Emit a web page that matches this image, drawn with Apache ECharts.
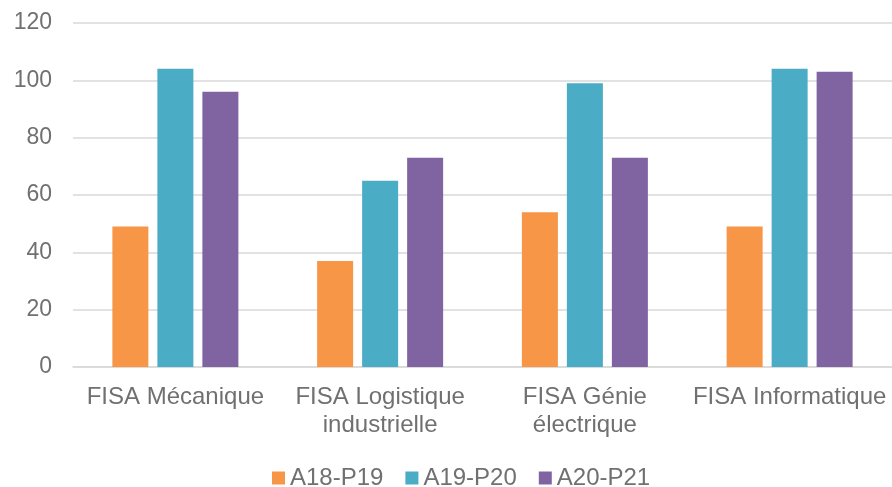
<!DOCTYPE html>
<html><head><meta charset="utf-8">
<script src="https://cdn.jsdelivr.net/npm/echarts@6/dist/echarts.min.js"></script>
<style>html,body{margin:0;padding:0;background:#fff}#c{width:892px;height:487px}</style>
</head><body><div id="c"></div>
<script>
const categories = ['FISA Mécanique', 'FISA Logistique\nindustrielle', 'FISA Génie\nélectrique', 'FISA Informatique'];
const seriesNames = ['A18-P19', 'A19-P20', 'A20-P21'];
const a18p19 = [49, 37, 54, 49];
const a19p20 = [104, 65, 99, 104];
const a20p21 = [96, 73, 73, 103];
const colors = ['#F79646', '#4BACC6', '#8064A2'];
const values = [a18p19, a19p20, a20p21];

const chart = echarts.init(document.getElementById('c'));
const font = 'Liberation Sans, Arial, sans-serif';
const txt = '#707070';
chart.setOption({
  animation: false,
  textStyle: { fontFamily: font },
  grid: { left: 73, right: 0, top: 23, bottom: 120 },
  legend: {
    top: 461, left: 267, itemWidth: 13, itemHeight: 13, itemGap: 22,
    icon: 'rect',
    textStyle: { fontSize: 24, color: txt, fontFamily: font },
    data: seriesNames
  },
  xAxis: {
    type: 'category', data: categories,
    axisLine: { lineStyle: { color: '#d9d9d9', width: 1.5 } },
    axisTick: { show: false },
    axisLabel: { fontSize: 24, color: txt, margin: 16, lineHeight: 28.5, interval: 0, fontFamily: font }
  },
  yAxis: {
    type: 'value', min: 0, max: 120, interval: 20,
    axisLine: { show: false }, axisTick: { show: false },
    splitLine: { lineStyle: { color: '#d9d9d9', width: 1.5 } },
    axisLabel: { fontSize: 23, color: txt, margin: 21, fontFamily: font }
  },
  series: seriesNames.map((n, i) => ({
    name: n, type: 'bar', data: values[i], barWidth: 36, barGap: '25%',
    itemStyle: { color: colors[i] }
  }))
});
</script></body></html>
